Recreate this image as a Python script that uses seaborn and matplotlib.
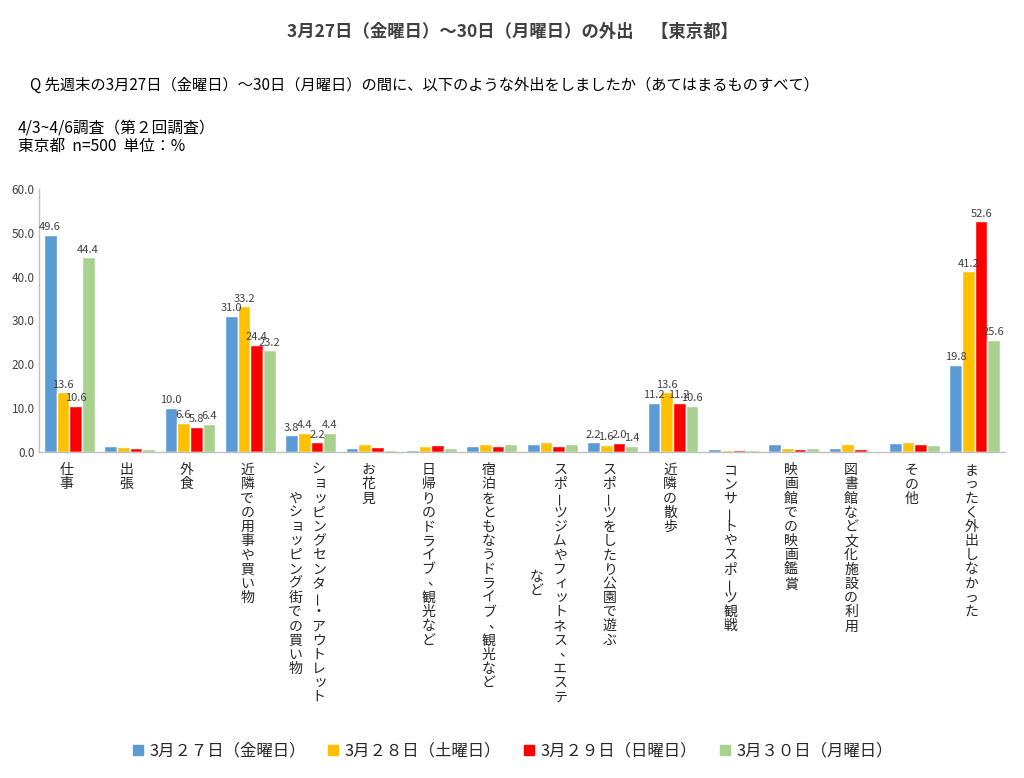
import matplotlib
matplotlib.use("Agg")
import matplotlib.pyplot as plt
from matplotlib.lines import Line2D
import seaborn as sns
import pandas as pd

categories = [
    "仕事", "出張", "外食", "近隣での用事や買い物",
    "ショッピングセンター・アウトレット\nやショッピング街での買い物",
    "お花見", "日帰りのドライブ、観光など", "宿泊をともなうドライブ、観光など",
    "スポーツジムやフィットネス、エステ\nなど", "スポーツをしたり公園で遊ぶ",
    "近隣の散歩", "コンサートやスポーツ観戦", "映画館での映画鑑賞",
    "図書館など文化施設の利用", "その他", "まったく外出しなかった",
]
days = ["3月２７日（金曜日）", "3月２８日（土曜日）", "3月２９日（日曜日）", "3月３０日（月曜日）"]
fri = [49.6, 1.4, 10.0, 31.0, 3.8, 0.9, 0.5, 1.4, 1.8, 2.2, 11.2, 0.7, 1.8, 0.9, 2.1, 19.8]
sat = [13.6, 1.2, 6.6, 33.2, 4.4, 1.9, 1.3, 1.8, 2.3, 1.6, 13.6, 0.5, 0.9, 1.8, 2.3, 41.2]
sun = [10.6, 0.8, 5.8, 24.4, 2.2, 1.1, 1.5, 1.4, 1.4, 2.0, 11.2, 0.5, 0.7, 0.7, 1.8, 52.6]
mon = [44.4, 0.6, 6.4, 23.2, 4.4, 0.5, 0.9, 1.8, 1.9, 1.4, 10.6, 0.5, 0.9, 0.2, 1.7, 25.6]
labeled = [True, False, True, True, True, False, False, False, False, True,
           True, False, False, False, False, True]
colors = ["#5B9BD5", "#FFC000", "#FF0000", "#A9D18E"]

title = "3月27日（金曜日）～30日（月曜日）の外出　【東京都】"
question = "Q 先週末の3月27日（金曜日）～30日（月曜日）の間に、以下のような外出をしましたか（あてはまるものすべて）"
note1 = "4/3~4/6調査（第２回調査）"
note2 = "東京都  n=500  単位：%"

sns.set_style("white")
plt.rcParams["font.family"] = ["Noto Sans CJK JP", "DejaVu Sans"]

series = [fri, sat, sun, mon]
rows = []
for d, vals in zip(days, series):
    for c, v in zip(categories, vals):
        rows.append({"cat": c, "day": d, "val": v})
df = pd.DataFrame(rows)

fig = plt.figure(figsize=(10.24, 7.78), dpi=100)
W, H = 1024, 778
ax = fig.add_axes([39 / W, 1 - 452 / H, (1005 - 39) / W, (452 - 189) / H])

sns.barplot(data=df, x="cat", y="val", hue="day", order=categories, hue_order=days,
            palette=colors, width=0.84, saturation=1, legend=False, ax=ax, errorbar=None)

ax.set_xlim(-0.5, len(categories) - 0.5)
ax.set_ylim(0, 60)
ax.set_yticks(range(0, 61, 10))
ax.set_yticklabels([f"{v:.1f}" for v in range(0, 61, 10)], fontsize=8.5, color="#404040")
ax.tick_params(axis="y", length=0, pad=3)
ax.set_xticks(range(len(categories)))
ax.set_xticklabels([])
ax.tick_params(axis="x", which="major", length=0)
ax.set_xticks([i - 0.5 for i in range(len(categories) + 1)], minor=True)
ax.tick_params(axis="x", which="minor", length=6, color="#BFBFBF", width=1)
ax.set_xlabel("")
ax.set_ylabel("")
for s in ["top", "right"]:
    ax.spines[s].set_visible(False)
for s in ["left", "bottom"]:
    ax.spines[s].set_color("#BFBFBF")
    ax.spines[s].set_linewidth(1)

for cont, vals in zip(ax.containers, series):
    labs = [f"{v:.1f}" if labeled[i] else "" for i, v in enumerate(vals)]
    ax.bar_label(cont, labels=labs, padding=2, fontsize=8, color="#404040")

# vertical (stacked) category labels
step = 14.2
small = set("ッョィャュァ")
for i, lab in enumerate(categories):
    cols = lab.split("\n")
    n = max(len(c) for c in cols)
    offs = [-3] if len(cols) == 1 else [8, -15.5]
    for col, dx in zip(cols, offs):
        start = (n - len(col)) / 2 * step
        for k, ch in enumerate(col):
            y = -(11 + start + (k + 0.5) * step)
            ddx, ddy, rot = 0, 0, 0
            if ch in "ー～":
                rot = 90
            elif ch == "、":
                ddx, ddy = 6, 3
            elif ch in small:
                ddx, ddy = 1.5, 1.0
            ax.annotate(ch, xy=(i, 0), xycoords=("data", "axes fraction"),
                        xytext=(dx + ddx, y + ddy), textcoords="offset pixels",
                        ha="center", va="center", rotation=rot, fontsize=10,
                        color="#262626", annotation_clip=False)

fig.text(0.5, 1 - 32 / H, title, ha="center", va="center", fontsize=12.5,
         fontweight="bold", color="#404040")
fig.text(30 / W, 1 - 85 / H, question, ha="left", va="center", fontsize=11, color="#000000")
fig.text(18 / W, 1 - 128 / H, note1, ha="left", va="center", fontsize=11.3, color="#000000")
fig.text(18 / W, 1 - 146 / H, note2, ha="left", va="center", fontsize=11.3, color="#000000")

handles = [Line2D([], [], marker="s", linestyle="", markersize=7, color=c) for c in colors]
fig.legend(handles, days, loc="center", bbox_to_anchor=(0.5, 1 - 751 / H), ncol=4,
           frameon=False, fontsize=11.8, handletextpad=0.3, columnspacing=1.3,
           handlelength=0.8)

fig.savefig("out.png", dpi=100)
